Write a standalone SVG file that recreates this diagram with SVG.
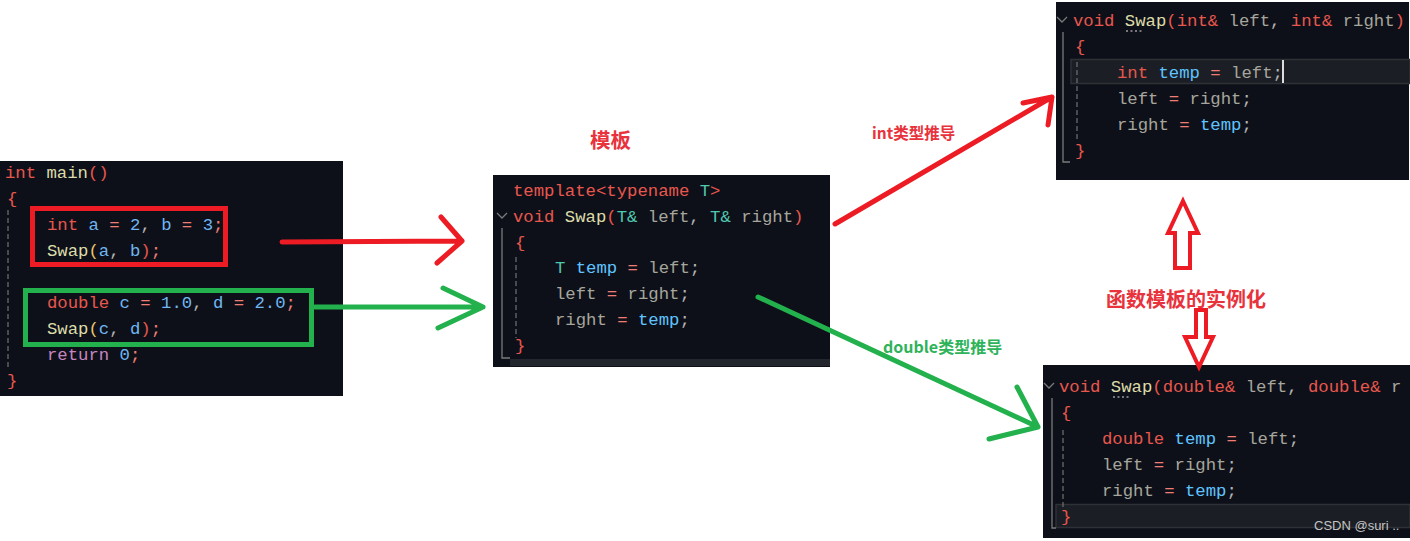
<svg xmlns="http://www.w3.org/2000/svg" width="1410" height="541" viewBox="0 0 1410 541">
<style>
.code{font-family:"Liberation Mono","DejaVu Sans Mono",monospace;font-size:17.3px;white-space:pre}
.panel{fill:#0e1019}
.kw{fill:#e8574d}.fn{fill:#dcdcaa}.var{fill:#6fb6f2}.num{fill:#6fb6f2}.op{fill:#ee7d74}
.par{fill:#a6a69c}.ty{fill:#4ec9b0}.tmp{fill:#5ec4ff}.pun{fill:#b4b4b4}.br{fill:#e8574d}.ret{fill:#c586c0}.yb{fill:#e6c86e}
.guide{stroke:#7a7a7a;stroke-width:1.3;fill:none}
.dash{stroke:#6a6a6a;stroke-width:1.3;stroke-dasharray:5 3;fill:none}
.red{stroke:#ed1c24;stroke-width:5;stroke-linecap:round;stroke-linejoin:round;fill:none}
.green{stroke:#22b14c;stroke-width:5;stroke-linecap:round;stroke-linejoin:round;fill:none}
.cjk{font-family:"Noto Sans CJK SC","Noto Sans",sans-serif;font-weight:bold}
</style>

<g id="panel-main">
<rect class="panel" x="0" y="161" width="343" height="235"/>
<line class="dash" x1="8" y1="210" x2="8" y2="368"/>
<text class="code" x="5" y="178" xml:space="preserve"><tspan class="kw">int</tspan> <tspan class="fn">main</tspan><tspan class="br">()</tspan></text>
<text class="code" x="7" y="204"><tspan class="br">{</tspan></text>
<text class="code" x="47" y="230" xml:space="preserve"><tspan class="kw">int</tspan><tspan class="var"> a</tspan><tspan class="op"> = </tspan><tspan class="num">2</tspan><tspan class="pun">, </tspan><tspan class="var">b</tspan><tspan class="op"> = </tspan><tspan class="num">3</tspan><tspan class="op">;</tspan></text>
<text class="code" x="47" y="256" xml:space="preserve"><tspan class="fn">Swap</tspan><tspan class="yb">(</tspan><tspan class="var">a</tspan><tspan class="pun">, </tspan><tspan class="var">b</tspan><tspan class="br">)</tspan><tspan class="op">;</tspan></text>
<text class="code" x="47" y="308" xml:space="preserve"><tspan class="kw">double</tspan><tspan class="var"> c</tspan><tspan class="op"> = </tspan><tspan class="num">1.0</tspan><tspan class="pun">, </tspan><tspan class="var">d</tspan><tspan class="op"> = </tspan><tspan class="num">2.0</tspan><tspan class="op">;</tspan></text>
<text class="code" x="47" y="334" xml:space="preserve"><tspan class="fn">Swap</tspan><tspan class="yb">(</tspan><tspan class="var">c</tspan><tspan class="pun">, </tspan><tspan class="var">d</tspan><tspan class="br">)</tspan><tspan class="op">;</tspan></text>
<text class="code" x="47" y="360" xml:space="preserve"><tspan class="ret">return</tspan><tspan class="num"> 0</tspan><tspan class="op">;</tspan></text>
<text class="code" x="7" y="386"><tspan class="br">}</tspan></text>
<rect x="32.5" y="208.5" width="193" height="56" fill="none" stroke="#ed1c24" stroke-width="5"/>
<rect x="25.5" y="290.5" width="286" height="54" fill="none" stroke="#22b14c" stroke-width="5"/>
</g>

<g id="panel-template">
<rect class="panel" x="493" y="175" width="337" height="192"/>
<rect x="510" y="359" width="320" height="7" fill="#23262c"/>
<polyline class="guide" points="497,213 502,218 507,213"/>
<polyline class="guide" points="502,228 502,358 510,358"/>
<line class="dash" x1="516" y1="257" x2="516" y2="338"/>
<text class="code" x="513" y="196" xml:space="preserve"><tspan class="kw">template&lt;typename</tspan> <tspan class="ty">T</tspan><tspan class="kw">&gt;</tspan></text>
<text class="code" x="513" y="222" xml:space="preserve"><tspan class="kw">void</tspan> <tspan class="fn">Swap</tspan><tspan class="br">(</tspan><tspan class="ty">T&amp;</tspan> <tspan class="par">left</tspan><tspan class="pun">, </tspan><tspan class="ty">T&amp;</tspan> <tspan class="par">right</tspan><tspan class="br">)</tspan></text>
<text class="code" x="515" y="248"><tspan class="br">{</tspan></text>
<text class="code" x="555" y="273" xml:space="preserve"><tspan class="ty">T</tspan> <tspan class="tmp">temp</tspan><tspan class="op"> = </tspan><tspan class="par">left</tspan><tspan class="pun">;</tspan></text>
<text class="code" x="555" y="299" xml:space="preserve"><tspan class="par">left</tspan><tspan class="op"> = </tspan><tspan class="par">right</tspan><tspan class="pun">;</tspan></text>
<text class="code" x="555" y="325" xml:space="preserve"><tspan class="par">right</tspan><tspan class="op"> = </tspan><tspan class="tmp">temp</tspan><tspan class="pun">;</tspan></text>
<text class="code" x="515" y="351"><tspan class="br">}</tspan></text>
</g>

<g id="panel-int">
<rect class="panel" x="1056" y="2" width="353" height="178"/>
<rect x="1071" y="59.5" width="339" height="24" fill="#1b1e24" stroke="#2e3136" stroke-width="1.5"/>
<polyline class="guide" points="1057,17 1062,22 1067,17"/>
<polyline class="guide" points="1063,32 1063,162 1070,162"/>
<line class="dash" x1="1077" y1="62" x2="1077" y2="141"/>
<text class="code" x="1073" y="26" xml:space="preserve"><tspan class="kw">void</tspan> <tspan class="fn">Swap</tspan><tspan class="br">(</tspan><tspan class="kw">int&amp;</tspan> <tspan class="par">left</tspan><tspan class="pun">, </tspan><tspan class="kw">int&amp;</tspan> <tspan class="par">right</tspan><tspan class="br">)</tspan></text>
<line x1="1126" y1="31" x2="1143" y2="31" stroke="#9a9a9a" stroke-width="1.5" stroke-dasharray="2 2.5"/>
<text class="code" x="1075" y="52"><tspan class="br">{</tspan></text>
<text class="code" x="1117" y="78" xml:space="preserve"><tspan class="kw">int</tspan> <tspan class="tmp">temp</tspan><tspan class="op"> = </tspan><tspan class="par">left</tspan><tspan class="pun">;</tspan></text>
<rect x="1282" y="60" width="2" height="23" fill="#dcdcdc"/>
<text class="code" x="1117" y="104" xml:space="preserve"><tspan class="par">left</tspan><tspan class="op"> = </tspan><tspan class="par">right</tspan><tspan class="pun">;</tspan></text>
<text class="code" x="1117" y="130" xml:space="preserve"><tspan class="par">right</tspan><tspan class="op"> = </tspan><tspan class="tmp">temp</tspan><tspan class="pun">;</tspan></text>
<text class="code" x="1075" y="156"><tspan class="br">}</tspan></text>
</g>

<g id="panel-double">
<rect class="panel" x="1043" y="365" width="367" height="173"/>
<rect x="1056" y="504.5" width="354" height="23" fill="#1b1e24" stroke="#2e3136" stroke-width="1.5"/>
<polyline class="guide" points="1044,383 1049,388 1054,383"/>
<polyline class="guide" points="1052,398 1052,528 1056,528"/>
<line class="dash" x1="1063" y1="430" x2="1063" y2="510"/>
<text class="code" x="1059" y="392" xml:space="preserve"><tspan class="kw">void</tspan> <tspan class="fn">Swap</tspan><tspan class="br">(</tspan><tspan class="kw">double&amp;</tspan> <tspan class="par">left</tspan><tspan class="pun">, </tspan><tspan class="kw">double&amp;</tspan> <tspan class="par">r</tspan></text>
<line x1="1113" y1="397" x2="1129" y2="397" stroke="#9a9a9a" stroke-width="1.5" stroke-dasharray="2 2.5"/>
<text class="code" x="1061" y="418"><tspan class="br">{</tspan></text>
<text class="code" x="1102" y="444" xml:space="preserve"><tspan class="kw">double</tspan> <tspan class="tmp">temp</tspan><tspan class="op"> = </tspan><tspan class="par">left</tspan><tspan class="pun">;</tspan></text>
<text class="code" x="1102" y="470" xml:space="preserve"><tspan class="par">left</tspan><tspan class="op"> = </tspan><tspan class="par">right</tspan><tspan class="pun">;</tspan></text>
<text class="code" x="1102" y="496" xml:space="preserve"><tspan class="par">right</tspan><tspan class="op"> = </tspan><tspan class="tmp">temp</tspan><tspan class="pun">;</tspan></text>
<text class="code" x="1061" y="522"><tspan class="br">}</tspan></text>
<text x="1314" y="530" font-family="Liberation Sans, Arial, sans-serif" font-size="13" fill="#c4c4c4">CSDN @suri ..</text>
</g>

<g id="labels">
<text class="cjk" x="590" y="148" font-size="20.5" fill="#e8323c">模板</text>
<text class="cjk" x="872" y="139" font-size="15.5" fill="#e8323c">int类型推导</text>
<text class="cjk" x="883" y="353" font-size="16" fill="#2fb35a">double类型推导</text>
<text class="cjk" x="1106" y="307" font-size="20" fill="#e8323c">函数模板的实例化</text>
</g>

<g id="connectors">
<path class="red" d="M282,242 L462,241 M441,217 L462,241 L437,263"/>
<path class="green" d="M315,307 L483,307 M443,288 L483,307 L438,328"/>
<path class="red" d="M835,224 L1052,97 M1023,103 L1052,97 L1048,125"/>
<path class="green" d="M758,297 L1038,427 M1017,387 L1038,427 L989,439"/>
<polygon points="1183,201 1198,233 1190,233 1190,268 1175,268 1175,233 1168,233" fill="none" stroke="#ed1c24" stroke-width="4" stroke-linejoin="miter"/>
<polygon points="1196,310 1206,310 1206,337 1213,337 1199,367 1185,337 1196,337" fill="none" stroke="#ed1c24" stroke-width="4" stroke-linejoin="miter"/>
</g>
</svg>
